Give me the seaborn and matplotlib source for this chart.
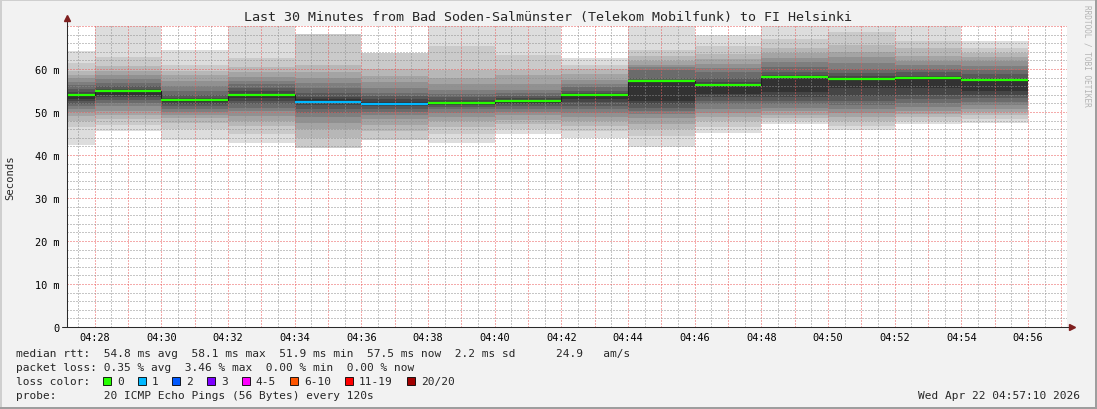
import matplotlib
matplotlib.use("Agg")
import matplotlib.pyplot as plt
import matplotlib.ticker as mticker
from matplotlib.patches import Rectangle
import seaborn as sns
import pandas as pd

W, H = 1097, 410

# two-minute slots, minutes after 04:00 (first slot is cut by the left edge)
slot_start = [26, 28, 30, 32, 34, 36, 38, 40, 42, 44, 46, 48, 50, 52, 54]
slot_len = 2
view_start, view_end = 27 + 10 / 60, 57 + 10 / 60

# median rtt (ms) and lost pings per slot
median_ms = [54.0, 54.8, 52.8, 54.0, 52.4, 51.9, 52.2, 52.6, 53.9, 57.3, 56.3, 58.1, 57.6, 58.0, 57.5]
lost = [0, 0, 0, 0, 1, 1, 0, 0, 0, 0, 0, 0, 0, 0, 0]

# sorted ping times (ms) per slot, None = lost ping
pings = [
    [42.3, 46.5, 48.0, 49.0, 50.0, 50.8, 51.4, 51.9, 52.5, 53.0, 54.0, 54.6, 55.3, 56.2, 57.0, 57.8, 58.6, 59.6, 61.5, 64.2],
    [45.5, 47.0, 48.3, 49.3, 50.3, 51.3, 52.0, 52.8, 53.4, 53.9, 54.8, 55.4, 56.0, 56.8, 57.6, 58.6, 59.6, 60.8, 62.8, 71.5],
    [43.5, 46.0, 47.5, 48.5, 49.3, 50.0, 50.8, 51.4, 51.9, 52.3, 52.8, 53.3, 54.0, 55.0, 56.0, 57.2, 58.5, 59.5, 61.0, 64.4],
    [42.8, 45.0, 46.8, 48.0, 49.0, 50.2, 51.0, 51.8, 52.5, 53.2, 54.0, 54.8, 55.6, 56.4, 57.2, 58.2, 59.2, 60.4, 62.6, 71.5],
    [41.0, 41.7, 44.0, 46.0, 47.5, 48.8, 49.8, 50.8, 51.6, 52.4, 53.0, 53.6, 54.4, 55.5, 56.8, 58.0, 59.2, 61.0, 68.1, None],
    [43.0, 43.4, 45.5, 47.0, 48.3, 49.3, 50.0, 50.8, 51.4, 51.9, 52.4, 53.0, 53.7, 54.5, 55.5, 57.0, 58.3, 60.0, 63.7, None],
    [42.8, 45.0, 46.5, 47.8, 48.8, 49.8, 50.6, 51.2, 51.6, 51.9, 52.2, 52.8, 53.5, 54.3, 55.2, 56.5, 57.8, 59.8, 65.4, 71.5],
    [44.9, 46.0, 47.2, 48.2, 49.2, 50.0, 50.8, 51.4, 51.9, 52.2, 52.6, 53.2, 53.8, 54.5, 55.2, 56.5, 58.5, 59.8, 63.2, 71.5],
    [44.0, 45.5, 46.8, 47.8, 48.8, 49.8, 50.7, 51.5, 52.3, 53.0, 53.9, 54.4, 55.0, 55.7, 56.5, 57.5, 58.8, 60.0, 61.0, 62.5],
    [41.9, 44.5, 46.0, 47.3, 48.5, 49.5, 50.3, 51.0, 51.8, 52.5, 57.3, 57.5, 57.8, 59.8, 60.5, 61.0, 61.8, 63.0, 64.5, 71.5],
    [45.1, 46.5, 47.8, 48.8, 49.8, 50.8, 51.8, 52.6, 53.4, 54.2, 56.3, 57.0, 57.8, 59.2, 60.2, 61.2, 62.3, 63.5, 65.3, 67.8],
    [47.1, 47.8, 48.5, 49.3, 50.2, 51.0, 51.8, 52.6, 53.5, 54.6, 58.1, 58.6, 59.3, 60.5, 61.6, 62.6, 63.8, 65.0, 67.0, 71.5],
    [45.7, 46.8, 47.8, 48.8, 49.8, 50.8, 51.7, 52.6, 53.8, 55.5, 57.6, 58.3, 59.0, 60.0, 61.5, 62.8, 64.0, 65.5, 68.5, 71.5],
    [47.3, 48.0, 48.8, 49.5, 50.3, 51.2, 52.0, 53.0, 54.0, 55.5, 58.0, 58.3, 59.2, 60.0, 61.0, 61.8, 63.0, 64.8, 66.5, 71.5],
    [47.5, 48.3, 49.2, 50.0, 50.8, 51.6, 52.4, 53.2, 54.0, 55.0, 57.5, 58.0, 58.8, 59.8, 60.8, 61.8, 62.8, 63.8, 65.0, 66.5],
]

loss_labels = ["0", "1", "2", "3", "4-5", "6-10", "11-19", "20/20"]
loss_colors = ["#26ff00", "#00b8ff", "#0059ff", "#7e00ff", "#ff00ff", "#ff5500", "#ff0000", "#a10000"]

title = "Last 30 Minutes from Bad Soden-Salmünster (Telekom Mobilfunk) to FI Helsinki"
stats_rtt = "median rtt:  54.8 ms avg  58.1 ms max  51.9 ms min  57.5 ms now  2.2 ms sd      24.9   am/s"
stats_loss = "packet loss: 0.35 % avg  3.46 % max  0.00 % min  0.00 % now"
probe_txt = "probe:       20 ICMP Echo Pings (56 Bytes) every 120s"
stamp = "Wed Apr 22 04:57:10 2026"

BACK = "#f2f2f2"
GRID = (0.56, 0.56, 0.56, 0.32)
MGRID = (0.92, 0.35, 0.35, 0.40)
ARROW = "#7f1f1f"
AXIS = "#2a2a2a"

sns.set_theme(style="white")
plt.rcParams["font.family"] = ["DejaVu Sans Mono"]


def fx(px):
    return px / W


def fy(py):
    return 1 - py / H


def loss_index(n):
    if n <= 3:
        return n
    if n <= 5:
        return 4
    if n <= 10:
        return 5
    if n <= 19:
        return 6
    return 7


def ylab(v, _):
    if v == 0:
        return "0"
    if v >= 70:
        return ""
    return "%d m" % v


fig = plt.figure(figsize=(W / 100, H / 100), dpi=100, facecolor=BACK)
ax = fig.add_axes([fx(67), fy(328), 1000 / W, 301 / H])
ax.set_facecolor("white")

# smoke: pairs of pings, outer pair lightest, inner pair darkest
n = 20
half = n // 2
for ib in range(half):
    level = int(190 / half * (half - ib - 1)) + 50
    col = "#" + ("%02x" % level) * 3
    for s, p in zip(slot_start, pings):
        lo, hi = p[ib], p[n - 1 - ib]
        if lo is None or hi is None:
            continue
        ax.bar(s, hi - lo, bottom=lo, width=slot_len, align="edge",
               color=col, linewidth=0, zorder=1)

# thin dark median step line
steps = pd.DataFrame({"t": slot_start + [slot_start[-1] + slot_len],
                      "rtt": median_ms + [median_ms[-1]]})
sns.lineplot(data=steps, x="t", y="rtt", drawstyle="steps-post", color="#202020",
             lw=0.8, estimator=None, ax=ax, zorder=3)

# coloured median per slot
for s, m, l in zip(slot_start, median_ms, lost):
    ax.hlines(m, s, s + slot_len, color=loss_colors[loss_index(l)], lw=1.6, zorder=4)

ax.set_xlim(view_start, view_end)
ax.set_ylim(0, 70)
ax.set_xlabel("")
ax.set_ylabel("")

ax.xaxis.set_major_locator(mticker.MultipleLocator(1))
ax.xaxis.set_minor_locator(mticker.MultipleLocator(0.5))
ax.xaxis.set_major_formatter(mticker.FuncFormatter(
    lambda v, _: "04:%02d" % round(v) if round(v) % 2 == 0 else ""))
ax.yaxis.set_major_locator(mticker.MultipleLocator(10))
ax.yaxis.set_minor_locator(mticker.MultipleLocator(2))
ax.yaxis.set_major_formatter(mticker.FuncFormatter(ylab))

ax.set_axisbelow(False)
ax.grid(which="minor", color=GRID, ls=(0, (1, 2)), lw=0.72)
ax.grid(which="major", color=MGRID, ls=(0, (1, 2)), lw=0.72)

ax.tick_params(axis="both", which="both", direction="out", labelsize=7.4,
               labelcolor="black")
ax.tick_params(axis="x", which="major", length=2.2, width=0.7, color=MGRID, pad=1.5)
ax.tick_params(axis="x", which="minor", length=2.2, width=0.7, color=GRID)
ax.tick_params(axis="y", which="major", length=2.2, width=0.7, color=MGRID, pad=3.4)
ax.tick_params(axis="y", which="minor", length=2.2, width=0.7, color=GRID)

for sp in ax.spines.values():
    sp.set_visible(False)

# axes with arrows
ax.plot([0, 0], [0, 1.02], transform=ax.transAxes, color=AXIS, lw=0.75,
        clip_on=False, zorder=5)
ax.plot([-0.005, 1.004], [0, 0], transform=ax.transAxes, color=AXIS, lw=0.75,
        clip_on=False, zorder=5)
ax.plot([0], [1.025], transform=ax.transAxes, marker="^", ms=4.5, color=ARROW,
        clip_on=False, zorder=6)
ax.plot([1.005], [0], transform=ax.transAxes, marker=">", ms=4.5, color=ARROW,
        clip_on=False, zorder=6)

# texts
fig.text(fx(548), fy(18), title, fontsize=9.6, ha="center", va="center")
fig.text(fx(10), fy(177.5), "Seconds", fontsize=7.6, rotation=90, ha="center", va="center")
fig.text(fx(1087), fy(5), "RRDTOOL / TOBI OETIKER", fontsize=5.6, rotation=270,
         ha="center", va="top", color="#b4b4b4")

fs = 8.0
cw = 6.73
fig.text(fx(16), fy(354), stats_rtt, fontsize=fs, va="center")
fig.text(fx(16), fy(368), stats_loss, fontsize=fs, va="center")
fig.text(fx(16), fy(382), "loss color:", fontsize=fs, va="center")
fig.text(fx(16), fy(396), probe_txt, fontsize=fs, va="center")
fig.text(fx(1080), fy(396), stamp, fontsize=fs, va="center", ha="right")

x0 = 103
for lab, col in zip(loss_labels, loss_colors):
    fig.add_artist(Rectangle((fx(x0), fy(386)), 8 / W, 8 / H, transform=fig.transFigure,
                             facecolor=col, edgecolor="black", lw=0.6))
    fig.text(fx(x0 + 14), fy(382), lab, fontsize=fs, va="center")
    x0 = x0 + 14 + len(lab) * cw + 14

# 3d frame around the image
fig.add_artist(Rectangle((0, fy(2)), 1, 2 / H, transform=fig.transFigure,
                         facecolor="#cfcfcf", lw=0))
fig.add_artist(Rectangle((0, 0), 2 / W, 1, transform=fig.transFigure,
                         facecolor="#cfcfcf", lw=0))
fig.add_artist(Rectangle((0, 0), 1, 2 / H, transform=fig.transFigure,
                         facecolor="#9e9e9e", lw=0))
fig.add_artist(Rectangle((1 - 2 / W, 0), 2 / W, 1, transform=fig.transFigure,
                         facecolor="#9e9e9e", lw=0))

fig.savefig("out.png", dpi=100, facecolor=BACK)
